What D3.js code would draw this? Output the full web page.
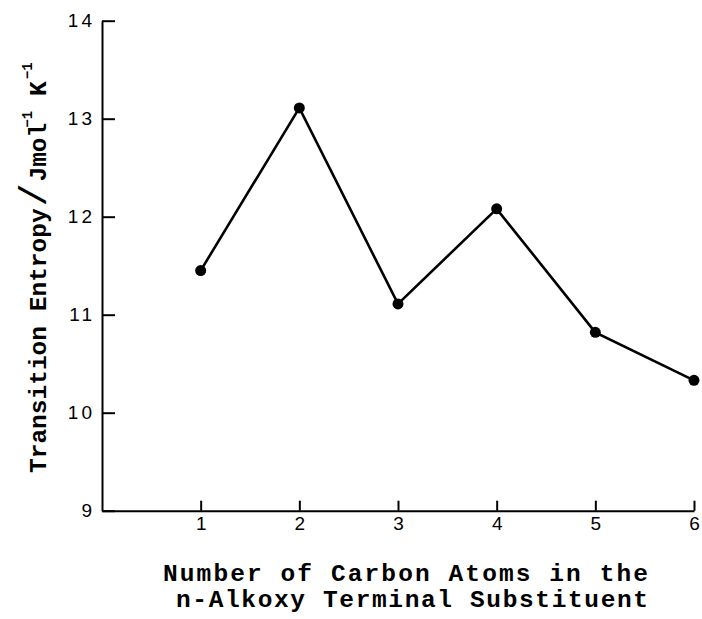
<!DOCTYPE html>
<html>
<head>
<meta charset="utf-8">
<script src="https://cdn.jsdelivr.net/npm/d3@7"></script>
<style>
  body { margin: 0; background: #fff; }
  svg { display: block; }
  .axis path, .axis line { stroke: #000; stroke-width: 2; }
  .axis text { font-family: "Liberation Sans", Arial, sans-serif; font-size: 19px; letter-spacing: 3px; fill: #000; }
  .title { font-family: "Liberation Mono", "DejaVu Sans Mono", monospace; font-weight: bold; font-size: 24.5px; fill: #000; }
</style>
</head>
<body>
<div id="chart"></div>
<script>
// number of carbon atoms in the n-alkoxy terminal substituent
var carbons = [1, 2, 3, 4, 5, 6];
// transition entropy, J mol^-1 K^-1
var entropy = [11.45, 13.11, 11.11, 12.08, 10.82, 10.33];
var yTicks = [9, 10, 11, 12, 13, 14];
var xTicks = [1, 2, 3, 4, 5, 6];

var width = 702, height = 619;

var svg = d3.select("#chart").append("svg")
    .attr("width", width)
    .attr("height", height);

var x = d3.scaleLinear().domain([0, 6]).range([102, 694]);
var y = d3.scaleLinear().domain([9, 14]).range([510.7, 20.7]);

//y axis, ticks pointing into the plot
var yAxis = d3.axisLeft(y)
    .tickValues(yTicks)
    .tickSizeInner(-13)
    .tickSizeOuter(0)
    .tickPadding(7)
    .tickFormat(d3.format("d"));

svg.append("g")
    .attr("class", "axis")
    .attr("transform", "translate(" + x(0) + ",0)")
    .call(yAxis);

//x axis, ticks pointing up
var xAxis = d3.axisBottom(x)
    .tickValues(xTicks)
    .tickSizeInner(-10)
    .tickSizeOuter(0)
    .tickPadding(6)
    .tickFormat(d3.format("d"));

svg.append("g")
    .attr("class", "axis")
    .attr("transform", "translate(0," + y(9) + ")")
    .call(xAxis)
    .selectAll("text")
    .attr("dx", "1.5px");

var points = carbons.map(function(c, i) { return {c: c, e: entropy[i]}; });

var line = d3.line()
    .x(function(d) { return x(d.c); })
    .y(function(d) { return y(d.e); });

svg.append("path")
    .datum(points)
    .attr("d", line)
    .attr("fill", "none")
    .attr("stroke", "#000")
    .attr("stroke-width", 2.6);

svg.append("g")
    .selectAll("circle")
    .data(points)
    .enter()
    .append("circle")
    .attr("cx", function(d) { return x(d.c); })
    .attr("cy", function(d) { return y(d.e); })
    .attr("r", 5.5)
    .attr("fill", "#000");

//x axis title, two lines
var xTitle = ["Number of Carbon Atoms in the", "n-Alkoxy Terminal Substituent"];
var xTitlePos = [{cx: 405.5, len: 485}, {cx: 412, len: 472}];
svg.append("g")
    .selectAll("text")
    .data(xTitle)
    .enter()
    .append("text")
    .attr("class", "title")
    .attr("x", function(d, i) { return xTitlePos[i].cx; })
    .attr("y", function(d, i) { return 581 + i * 26; })
    .attr("text-anchor", "middle")
    .attr("textLength", function(d, i) { return xTitlePos[i].len; })
    .attr("lengthAdjust", "spacing")
    .text(function(d) { return d; });

//y axis title, rotated
var yt = svg.append("text")
    .attr("class", "title")
    .attr("transform", "translate(46,473) rotate(-90)");
yt.append("tspan").text("Transition Entropy");
yt.append("tspan").attr("font-weight", "normal").attr("font-size", "38px").attr("dx", 2).text("/");
yt.append("tspan").attr("dx", 2).text("Jmol");
yt.append("tspan").attr("font-size", "14px").attr("dy", -14).attr("dx", -5).text("\u22121");
yt.append("tspan").attr("dy", 14).attr("dx", 15).text("K");
yt.append("tspan").attr("font-size", "14px").attr("dy", -14).attr("dx", 2).text("\u22121");
</script>
</body>
</html>
